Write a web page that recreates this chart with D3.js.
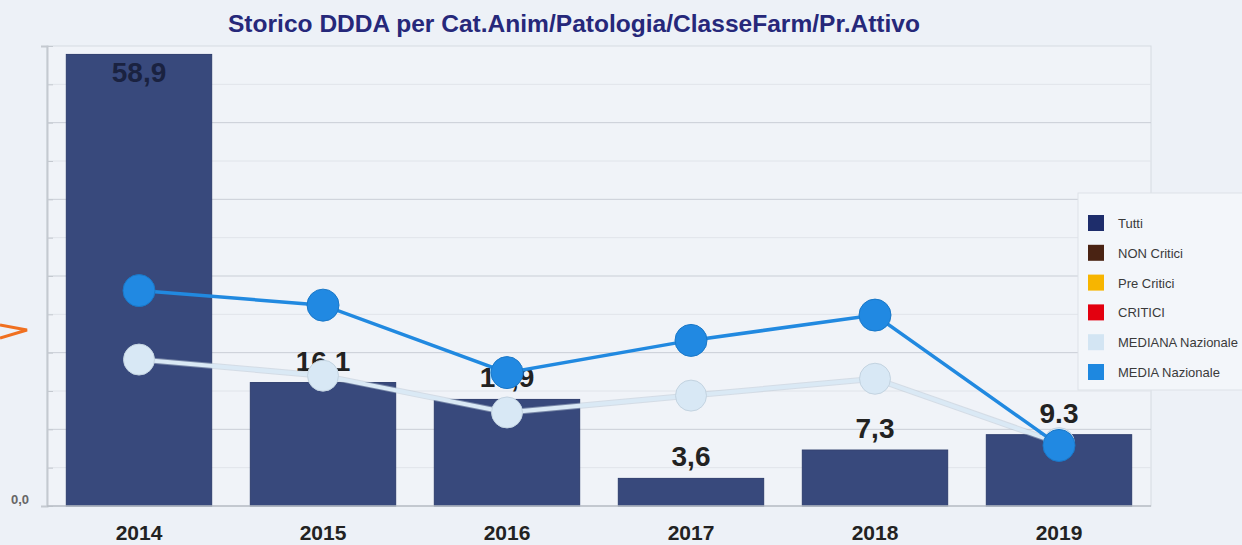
<!DOCTYPE html>
<html><head><meta charset="utf-8">
<script src="https://cdn.jsdelivr.net/npm/d3@7"></script>
<style>
html,body{margin:0;padding:0;background:#edf1f7;}
svg{display:block;font-family:"Liberation Sans",Arial,sans-serif;}
</style></head>
<body><svg id="c" width="1242" height="545"></svg>
<script>
const years = ["2014","2015","2016","2017","2018","2019"];
const tutti = [58.9, 16.1, 13.9, 3.6, 7.3, 9.3];
const barLabels = ["58,9","16,1","13,9","3,6","7,3","9.3"];
const media = [28.1, 26.2, 17.4, 21.6, 24.9, 7.9];
const mediana = [19.1, 17.0, 12.2, 14.4, 16.6, 8.2];
const legendNames = ["Tutti","NON Critici","Pre Critici","CRITICI","MEDIANA Nazionale","MEDIA Nazionale"];
const legendColors = ["#1e2d6b","#4a2313","#f7b500","#e3000f","#d3e5f3","#1e88e0"];
const yTicks = [0];

const svg = d3.select("#c");
const W = 1242, H = 545;
const m = {l:47, r:1151, t:46, b:506};

svg.append("rect").attr("width",W).attr("height",H).attr("fill","#edf1f7");

const x = d3.scaleBand().domain(years).range([m.l, m.r]).paddingInner(0.21).paddingOuter(0.105);
const y = d3.scaleLinear().domain([0, 60]).range([m.b, m.t]);

// plot bg
svg.append("rect").attr("x",m.l).attr("y",m.t).attr("width",m.r-m.l).attr("height",m.b-m.t)
  .attr("fill","#f0f3f8").attr("stroke","#d6dbe2").attr("stroke-width",1);

// grid
const g = svg.append("g");
d3.range(5, 60, 5).forEach(v => {
  g.append("line").attr("x1",m.l).attr("x2",m.r).attr("y1",y(v)).attr("y2",y(v))
    .attr("stroke", v%10===0 ? "#c9ced6" : "#e0e4ea").attr("stroke-width",1);
});
// left axis with ticks
const ya = d3.axisLeft(y).tickValues(d3.range(0,61,5)).tickSize(6)
  .tickFormat(d => yTicks.includes(d) ? d3.format(".1f")(d).replace(".",",") : "");
const yg = svg.append("g").attr("transform",`translate(${m.l},0)`).call(ya);
yg.select(".domain").attr("stroke","#c4c9d0").attr("stroke-width",2);
yg.selectAll(".tick line").attr("stroke","#c4c9d0").attr("x1",0).attr("x2",6);
yg.selectAll(".tick text").attr("fill","#666").attr("font-size",13).attr("font-weight","bold")
  .attr("font-family","Liberation Sans, Arial, sans-serif").attr("dx",-9).attr("dy",-3);

// bars
svg.append("g").selectAll("rect").data(tutti).join("rect")
  .attr("x",(d,i)=>x(years[i])).attr("width",x.bandwidth())
  .attr("y",d=>y(d)).attr("height",d=>y(0)-y(d))
  .attr("fill","#38497c").attr("stroke","#2f3e6e").attr("stroke-width",1);

// bottom axis line
svg.append("line").attr("x1",m.l).attr("x2",m.r).attr("y1",m.b).attr("y2",m.b).attr("stroke","#b9bec6").attr("stroke-width",1.5);

// bar labels
svg.append("g").selectAll("text").data(tutti).join("text")
  .attr("x",(d,i)=>x(years[i])+x.bandwidth()/2)
  .attr("y",(d,i)=> i===0 ? y(d)+28 : y(d)-12)
  .attr("text-anchor","middle").attr("font-size",28).attr("font-weight","bold")
  .attr("fill",(d,i)=> i===0 ? "#1a2240" : "#222")
  .text((d,i)=>barLabels[i]);

// x labels
svg.append("g").selectAll("text").data(years).join("text")
  .attr("x",d=>x(d)+x.bandwidth()/2).attr("y",540)
  .attr("text-anchor","middle").attr("font-size",21).attr("font-weight","bold").attr("fill","#222")
  .text(d=>d);

const cx = i => x(years[i]) + x.bandwidth()/2;
const line = d3.line().x((d,i)=>cx(i)).y(d=>y(d));

// mediana line
svg.append("path").datum(mediana).attr("d",line).attr("fill","none").attr("stroke","#b8c6d4").attr("stroke-width",6).attr("opacity",0.5);
svg.append("path").datum(mediana).attr("d",line).attr("fill","none").attr("stroke","#dae9f5").attr("stroke-width",4);
svg.append("g").selectAll("circle").data(mediana).join("circle")
  .attr("cx",(d,i)=>cx(i)).attr("cy",d=>y(d)).attr("r",15.5)
  .attr("fill","#d8e8f5").attr("stroke","#c3d3e0").attr("stroke-width",1);

// media line
svg.append("path").datum(media).attr("d",line).attr("fill","none").attr("stroke","#2189e0").attr("stroke-width",3.5);
svg.append("g").selectAll("circle").data(media).join("circle")
  .attr("cx",(d,i)=>cx(i)).attr("cy",d=>y(d)).attr("r",16)
  .attr("fill","#2189e2").attr("stroke","#1a78c8").attr("stroke-width",1);

// title
svg.append("text").attr("x",574).attr("y",32).attr("text-anchor","middle")
  .attr("font-size",24).attr("font-weight","bold").attr("fill","#26287a")
  .attr("textLength",692).attr("lengthAdjust","spacingAndGlyphs")
  .text("Storico DDDA per Cat.Anim/Patologia/ClasseFarm/Pr.Attivo");

// legend
const lg = svg.append("g");
lg.append("rect").attr("x",1078).attr("y",193).attr("width",170).attr("height",197)
  .attr("fill","#f3f6fa").attr("stroke","#dde2e8");
legendNames.forEach((n,i)=>{
  const yy = 223 + i*29.8;
  lg.append("rect").attr("x",1088).attr("y",yy-8).attr("width",16).attr("height",16).attr("fill",legendColors[i]);
  lg.append("text").attr("x",1118).attr("y",yy+5)
    .attr("font-size",13).attr("fill","#3a3a3a").text(n);
});

// orange arrow annotation
svg.append("path").attr("d","M0,325 L27,330 L0,338").attr("fill","none")
  .attr("stroke","#f07020").attr("stroke-width",3).attr("stroke-linejoin","miter");
</script></body></html>
